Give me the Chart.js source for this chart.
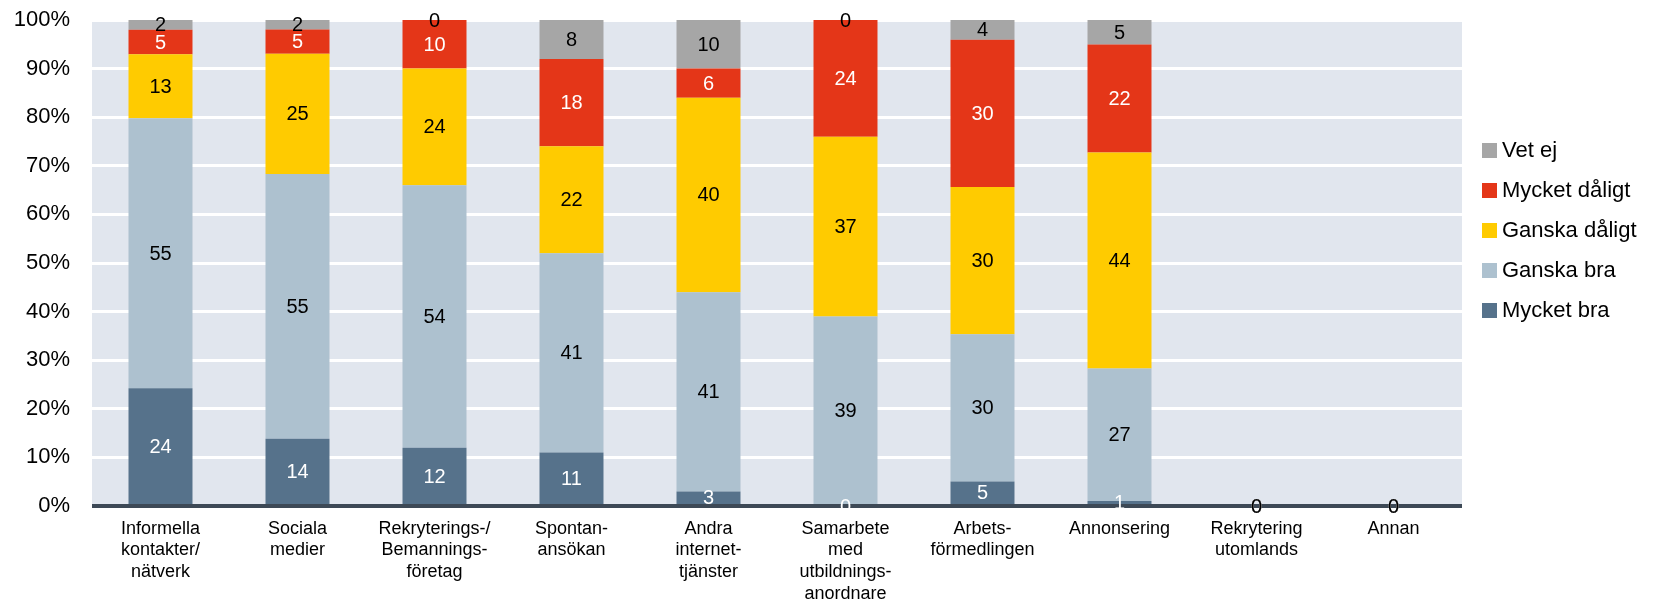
<!DOCTYPE html>
<html>
<head>
<meta charset="utf-8">
<script src="https://cdn.jsdelivr.net/npm/chart.js@4/dist/chart.umd.min.js"></script>
<style>
  html, body { margin: 0; padding: 0; background: #fff; }
</style>
</head>
<body>
<canvas id="chart" width="1667" height="600"></canvas>
<script>
"use strict";

// chart data
var categories = [
	["Informella", "kontakter/", "nätverk"],
	["Sociala", "medier"],
	["Rekryterings-/", "Bemannings-", "företag"],
	["Spontan-", "ansökan"],
	["Andra", "internet-", "tjänster"],
	["Samarbete", "med", "utbildnings-", "anordnare"],
	["Arbets-", "förmedlingen"],
	["Annonsering"],
	["Rekrytering", "utomlands"],
	["Annan"]
];
var mycketBra    = [24, 14, 12, 11,  3,  0,  5,  1, 0, 0];
var ganskaBra    = [55, 55, 54, 41, 41, 39, 30, 27, 0, 0];
var ganskaDaligt = [13, 25, 24, 22, 40, 37, 30, 44, 0, 0];
var mycketDaligt = [ 5,  5, 10, 18,  6, 24, 30, 22, 0, 0];
var vetEj        = [ 2,  2,  0,  8, 10,  0,  4,  5, 0, 0];
var yTickLabels  = ["0%", "10%", "20%", "30%", "40%", "50%", "60%", "70%", "80%", "90%", "100%"];

var FONT = "'Liberation Sans', Arial, sans-serif";

// each bar is shown as share of its category total
var series = [mycketBra, ganskaBra, ganskaDaligt, mycketDaligt, vetEj];
var totals = categories.map(function(c, j) {
	var s = 0;
	series.forEach(function(arr) { s += arr[j]; });
	return s;
});
function toShare(arr) {
	return arr.map(function(v, j) { return totals[j] ? v / totals[j] * 100 : 0; });
}

function makeSet(label, raw, color, textColor) {
	return {
		label: label,
		data: toShare(raw),
		raw: raw,
		labelColor: textColor,
		backgroundColor: color,
		borderWidth: 0,
		categoryPercentage: 1,
		barPercentage: 0.467
	};
}

// plot background
var plotBackground = {
	id: "plotBackground",
	beforeDraw: function(chart) {
		var a = chart.chartArea, ctx = chart.ctx;
		ctx.save();
		ctx.fillStyle = "#E1E6EE";
		ctx.fillRect(a.left, a.top, a.right - a.left, a.bottom - a.top);
		ctx.restore();
	}
};

// axis line and value labels
var valueLabels = {
	id: "valueLabels",
	afterDatasetsDraw: function(chart) {
		var ctx = chart.ctx, a = chart.chartArea;
		var y0 = chart.scales.y.getPixelForValue(0);
		ctx.save();
		ctx.strokeStyle = "#3D4956";
		ctx.lineWidth = 4;
		ctx.beginPath();
		ctx.moveTo(a.left, y0);
		ctx.lineTo(a.right, y0);
		ctx.stroke();

		ctx.font = "20px " + FONT;
		ctx.textAlign = "center";
		ctx.textBaseline = "middle";
		chart.data.datasets.forEach(function(ds, i) {
			var meta = chart.getDatasetMeta(i);
			meta.data.forEach(function(bar, j) {
				var p = bar.getProps(["x", "y", "base"], true);
				ctx.fillStyle = ds.labelColor;
				ctx.fillText(String(ds.raw[j]), p.x, (p.y + p.base) / 2 + 1);
			});
		});
		ctx.restore();
	}
};

// legend on the right, top item = last dataset
var sideLegend = {
	id: "sideLegend",
	afterDraw: function(chart) {
		var ctx = chart.ctx;
		var sets = chart.data.datasets.slice().reverse();
		ctx.save();
		ctx.font = "22px " + FONT;
		ctx.textAlign = "left";
		ctx.textBaseline = "middle";
		sets.forEach(function(ds, k) {
			var y = 150 + k * 40;
			ctx.fillStyle = ds.backgroundColor;
			ctx.fillRect(1482, y - 7, 15, 15);
			ctx.fillStyle = "#000";
			ctx.fillText(ds.label, 1502, y + 1);
		});
		ctx.restore();
	}
};

var ctx = document.getElementById("chart").getContext("2d");
var chart = new Chart(ctx, {
	type: "bar",
	data: {
		labels: categories,
		datasets: [
			makeSet("Mycket bra", mycketBra, "#56728B", "#FFFFFF"),
			makeSet("Ganska bra", ganskaBra, "#ADC1CF", "#000000"),
			makeSet("Ganska dåligt", ganskaDaligt, "#FFCB00", "#000000"),
			makeSet("Mycket dåligt", mycketDaligt, "#E43618", "#FFFFFF"),
			makeSet("Vet ej", vetEj, "#A6A6A6", "#000000")
		]
	},
	options: {
		responsive: false,
		animation: false,
		devicePixelRatio: 1,
		layout: { padding: { top: 20, right: 205, bottom: 0, left: 0 } },
		plugins: {
			legend: { display: false },
			tooltip: { enabled: false }
		},
		scales: {
			x: {
				stacked: true,
				grid: { display: false, drawTicks: false },
				border: { display: false },
				ticks: {
					color: "#000",
					font: { family: FONT, size: 18, lineHeight: 1.2 },
					padding: 12,
					maxRotation: 0,
					autoSkip: false
				},
				afterFit: function(scale) { scale.height = 94; }
			},
			y: {
				stacked: true,
				min: 0,
				max: 100,
				grid: { color: "#FFFFFF", lineWidth: 3, drawTicks: false },
				border: { display: false },
				ticks: {
					stepSize: 10,
					color: "#000",
					font: { family: FONT, size: 22 },
					padding: 22,
					callback: function(v) { return yTickLabels[Math.round(v / 10)]; }
				},
				afterFit: function(scale) {
					scale.width = 92;
					scale.paddingTop = 0;
					scale.paddingBottom = 0;
				}
			}
		}
	},
	plugins: [plotBackground, valueLabels, sideLegend]
});
</script>
</body>
</html>
